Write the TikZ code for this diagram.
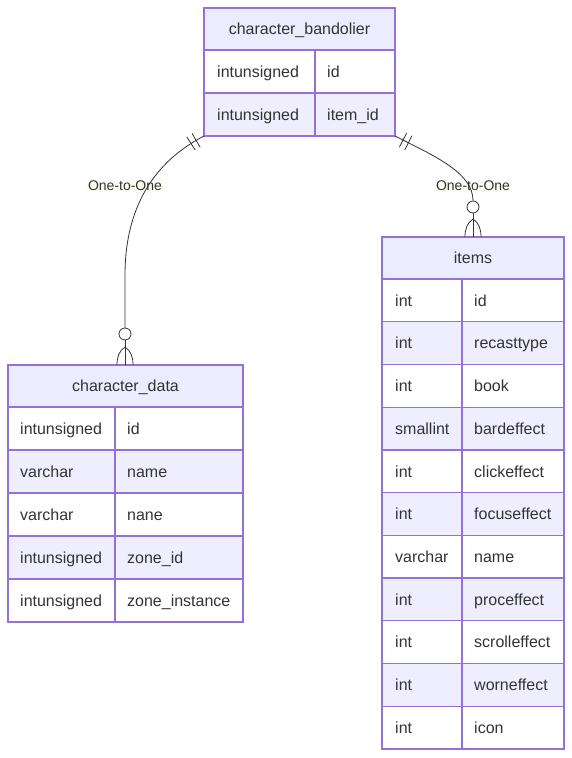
\documentclass[tikz,border=0pt]{standalone}
\usepackage{fontspec}
\setmainfont{Liberation Sans}
\usetikzlibrary{decorations.markings}
\definecolor{hdr}{HTML}{ECECFF}
\definecolor{evenrow}{HTML}{EFEEFF}
\definecolor{bord}{HTML}{9370DB}
\definecolor{txt}{HTML}{333333}
\definecolor{lblbg}{HTML}{F6F9E4}
\begin{document}
\begin{tikzpicture}[x=1pt,y=-1pt,
  tablebox/.style={draw=bord, line width=1.3pt, inner sep=0pt, outer sep=0pt, rectangle},
  sepline/.style={draw=bord, line width=1.3pt},
  ttl/.style={text=txt, font=\fontsize{16}{19}\selectfont, inner sep=0pt, text height=11.5pt, text depth=0pt},
  cell/.style={text=txt, font=\fontsize{16}{19}\selectfont, anchor=west, inner sep=0pt, text height=11.5pt, text depth=0pt},
  conn/.style={draw=txt, line width=0.8pt},
  lbl/.style={text=txt, font=\fontsize{14}{16}\selectfont, fill=lblbg, fill opacity=0.45, text opacity=1, inner sep=1.5pt},
  zcirc/.style={circle, draw=txt, line width=0.8pt, minimum size=12pt, inner sep=0pt, fill=white},
  ticks/.style={postaction={decorate, decoration={markings,
     mark=at position 9pt with {\draw[txt, line width=0.8pt] (0pt,-8pt) -- (0pt,8pt);},
     mark=at position 15pt with {\draw[txt, line width=0.8pt] (0pt,-8pt) -- (0pt,8pt);}}}}
]
\useasboundingbox (0,0) rectangle (572,758);

%% ---------- character_bandolier ----------
\fill[hdr] (204,8) rectangle (395,50);
\foreach \i in {2} { \fill[evenrow] (204,{50+43*(\i-1)}) rectangle (395,{50+43*\i}); }
\foreach \y in {50,93} { \draw[sepline] (204,\y) -- (395,\y); }
\draw[sepline] (315,50) -- (315,136);
\node[tablebox, anchor=north west, minimum width=191pt, minimum height=128pt] (band) at (204,8) {};
\node[ttl] (bandt) at (299.5,29) {character\_bandolier};
\foreach \t/\n [count=\i] in {intunsigned/id, intunsigned/item\_id} {
  \node[cell] (bt\i) at (217,{71.5+43*(\i-1)}) {\t};
  \node[cell] (bn\i) at (327,{71.5+43*(\i-1)}) {\n};
}

%% ---------- character_data ----------
\fill[hdr] (8,365) rectangle (243,407);
\foreach \i in {2,4} { \fill[evenrow] (8,{407+43*(\i-1)}) rectangle (243,{407+43*\i}); }
\foreach \i in {0,...,4} { \draw[sepline] (8,{407+43*\i}) -- (243,{407+43*\i}); }
\draw[sepline] (115,407) -- (115,622);
\node[tablebox, anchor=north west, minimum width=235pt, minimum height=257pt] (cdata) at (8,365) {};
\node[ttl] (cdatat) at (125.5,386) {character\_data};
\foreach \t/\n [count=\i] in {intunsigned/id, varchar/name, varchar/nane, intunsigned/zone\_id, intunsigned/zone\_instance} {
  \node[cell] (ct\i) at (20,{428.5+43*(\i-1)}) {\t};
  \node[cell] (cn\i) at (127,{428.5+43*(\i-1)}) {\n};
}

%% ---------- items ----------
\fill[hdr] (382,237) rectangle (564,279);
\foreach \i in {2,4,6,8,10} { \fill[evenrow] (382,{279+42.73*(\i-1)}) rectangle (564,{279+42.73*\i}); }
\foreach \i in {0,...,10} { \draw[sepline] (382,{279+42.73*\i}) -- (564,{279+42.73*\i}); }
\draw[sepline] (462,279) -- (462,749);
\node[tablebox, anchor=north west, minimum width=182pt, minimum height=512pt] (items) at (382,237) {};
\node[ttl] (itemst) at (473,258) {items};
\foreach \t/\n [count=\i] in {int/id, int/recasttype, int/book, smallint/bardeffect, int/clickeffect, int/focuseffect, varchar/name, int/proceffect, int/scrolleffect, int/worneffect, int/icon} {
  \node[cell] (it\i) at (395,{300.4+42.73*(\i-1)}) {\t};
  \node[cell] (in\i) at (474,{300.4+42.73*(\i-1)}) {\n};
}

%% ---------- relationship labels ----------
\node[lbl] (l1) at (125,186) {One-to-One};
\node[lbl] (l2) at (473,186) {One-to-One};

%% ---------- connectors ----------
\node[zcirc] (c1) at (125,334) {};
\node[zcirc] (c2) at (473,207) {};
\coordinate (c1f) at (125,347);
\coordinate (c2f) at (473,219);

% bandolier -> character_data
\draw[conn, ticks] (band.south west) .. controls (148,165) and (125,215) .. (125,275) -- (c1.north);
\draw[conn] (c1.south) -- (c1f |- cdata.north);
\draw[conn] (c1f) .. controls (119,351) and (117,357) .. (117,365);
\draw[conn] (c1f) .. controls (131,351) and (133,357) .. (133,365);

% bandolier -> items
\draw[conn, ticks] (band.south east) .. controls (432,155) and (473,172) .. (c2.north);
\draw[conn] (c2.south) -- (c2f |- items.north);
\draw[conn] (c2f) .. controls (467,223) and (465,229) .. (465,237);
\draw[conn] (c2f) .. controls (479,223) and (481,229) .. (481,237);
\end{tikzpicture}
\end{document}
